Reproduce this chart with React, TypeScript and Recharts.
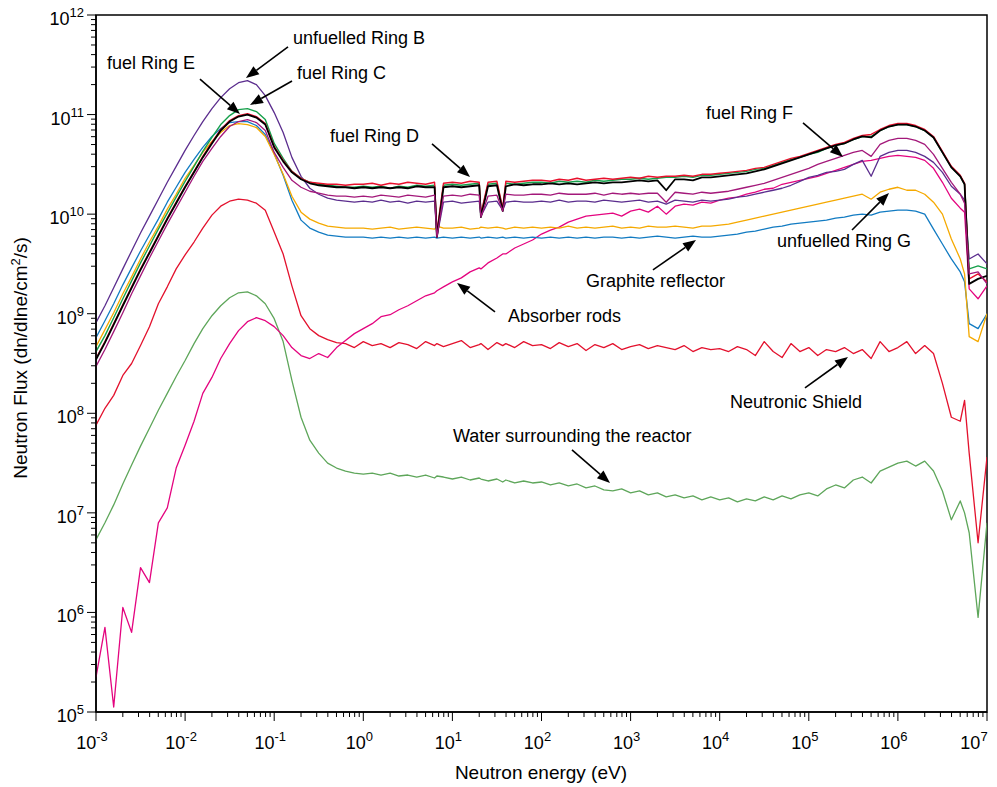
import React from "react";
import {
  LineChart,
  Line,
  XAxis,
  YAxis,
  ReferenceLine,
  ReferenceDot,
  ReferenceArea,
} from "recharts";

const FONT = "'Liberation Sans', Arial, Helvetica, sans-serif";

// neutron energy grid (eV)
const energy = [
  0.001, 0.00126, 0.00158, 0.002, 0.00251, 0.00316, 0.00398, 0.00501, 0.00631, 0.00794,
  0.01, 0.0126, 0.0158, 0.02, 0.0251, 0.0316, 0.0398, 0.0501, 0.0631, 0.0794,
  0.1, 0.126, 0.158, 0.2, 0.251, 0.316, 0.398, 0.501, 0.631, 0.794,
  1, 1.26, 1.58, 2, 2.51, 3.16, 3.98, 5.01, 6.31, 6.7, 7.94,
  10, 12.6, 15.8, 20, 20.9, 25.1, 31.6, 36.7, 39.8, 50.1, 63.1, 79.4,
  100, 126, 158, 200, 251, 316, 398, 501, 631, 794,
  1e3, 1.26e3, 1.58e3, 2e3, 2.51e3, 3.16e3, 3.98e3, 5.01e3, 6.31e3, 7.94e3,
  1e4, 1.26e4, 1.58e4, 2e4, 2.51e4, 3.16e4, 3.98e4, 5.01e4, 6.31e4, 7.94e4,
  1e5, 1.26e5, 1.58e5, 2e5, 2.51e5, 3.16e5, 3.98e5, 5.01e5, 6.31e5, 7.94e5,
  1e6, 1.26e6, 1.58e6, 2e6, 2.51e6, 3.16e6, 3.98e6, 5.01e6, 5.6e6, 6.31e6, 7.94e6,
  1e7,
];

// log10 of the flux, one value per energy point
const ringB = [
  8.91, 9.08, 9.26, 9.45, 9.63, 9.81, 9.98, 10.15, 10.32, 10.48,
  10.64, 10.79, 10.93, 11.06, 11.17, 11.26, 11.32, 11.34, 11.3, 11.19,
  11.02, 10.82, 10.57, 10.38, 10.26, 10.2, 10.16, 10.14, 10.13, 10.12,
  10.13, 10.12, 10.14, 10.12, 10.13, 10.11, 10.13, 10.12, 10.13, 9.77, 10.12,
  10.13, 10.11, 10.12, 10.13, 9.98, 10.12, 10.13, 10.04, 10.12, 10.13, 10.12, 10.12,
  10.13, 10.12, 10.14, 10.12, 10.13, 10.13, 10.12, 10.14, 10.13, 10.12,
  10.13, 10.14, 10.12, 10.13, 10.1, 10.14, 10.13, 10.12, 10.14, 10.13,
  10.14, 10.15, 10.17, 10.18, 10.2, 10.22, 10.24, 10.26, 10.29, 10.33,
  10.37, 10.39, 10.42, 10.43, 10.45, 10.5, 10.54, 10.38, 10.58, 10.62,
  10.64, 10.64, 10.62, 10.58, 10.52, 10.42, 10.28, 10.2, 10.14, 9.55, 9.6,
  9.5,
];

const ringC = [
  8.62, 8.78, 8.96, 9.15, 9.33, 9.51, 9.68, 9.85, 10.01, 10.17,
  10.33, 10.48, 10.63, 10.77, 10.9, 10.99, 11.05, 11.06, 11.03, 10.95,
  10.71, 10.56, 10.43, 10.36, 10.32, 10.3, 10.29, 10.28, 10.27, 10.27,
  10.28, 10.27, 10.28, 10.26, 10.28, 10.27, 10.29, 10.28, 10.29, 9.8, 10.29,
  10.3, 10.29, 10.3, 10.31, 9.99, 10.3, 10.31, 10.05, 10.31, 10.3, 10.31, 10.32,
  10.32, 10.31, 10.33, 10.32, 10.33, 10.32, 10.34, 10.33, 10.34, 10.35,
  10.35, 10.36, 10.35, 10.36, 10.37, 10.37, 10.38, 10.37, 10.39, 10.39,
  10.4, 10.41, 10.42, 10.43, 10.45, 10.46, 10.49, 10.52, 10.55, 10.57,
  10.6, 10.62, 10.66, 10.69, 10.71, 10.75, 10.78, 10.78, 10.84, 10.88,
  10.9, 10.9, 10.88, 10.84, 10.77, 10.62, 10.47, 10.38, 10.3, 9.45, 9.48,
  9.45,
];

const ringD = [
  8.55, 8.72, 8.9, 9.09, 9.27, 9.45, 9.62, 9.79, 9.96, 10.12,
  10.28, 10.43, 10.58, 10.72, 10.85, 10.94, 10.99, 11.01, 10.98, 10.91,
  10.68, 10.54, 10.43, 10.36, 10.32, 10.31, 10.3, 10.3, 10.29, 10.3,
  10.3, 10.31, 10.29, 10.31, 10.3, 10.32, 10.31, 10.3, 10.32, 9.82, 10.31,
  10.32, 10.31, 10.33, 10.32, 10.0, 10.32, 10.33, 10.06, 10.33, 10.32, 10.33, 10.34,
  10.34, 10.33, 10.35, 10.34, 10.36, 10.34, 10.35, 10.36, 10.35, 10.36,
  10.37, 10.36, 10.38, 10.37, 10.38, 10.38, 10.39, 10.38, 10.4, 10.4,
  10.41, 10.42, 10.43, 10.44, 10.46, 10.47, 10.5, 10.53, 10.56, 10.58,
  10.61, 10.64, 10.67, 10.7, 10.72, 10.76, 10.79, 10.8, 10.85, 10.89,
  10.91, 10.91, 10.89, 10.85, 10.78, 10.63, 10.48, 10.39, 10.31, 9.35, 9.4,
  9.32,
];

const ringE = [
  8.54, 8.71, 8.89, 9.08, 9.26, 9.44, 9.61, 9.78, 9.95, 10.11,
  10.27, 10.42, 10.57, 10.71, 10.84, 10.93, 10.98, 11.0, 10.97, 10.9,
  10.67, 10.53, 10.42, 10.35, 10.31, 10.29, 10.28, 10.27, 10.27, 10.26,
  10.27, 10.26, 10.27, 10.26, 10.27, 10.26, 10.28, 10.27, 10.27, 9.77, 10.27,
  10.28, 10.27, 10.28, 10.29, 9.97, 10.28, 10.29, 10.03, 10.28, 10.3, 10.29, 10.3,
  10.3, 10.31, 10.3, 10.31, 10.3, 10.31, 10.32, 10.31, 10.32, 10.32,
  10.33, 10.34, 10.33, 10.34, 10.24, 10.35, 10.35, 10.34, 10.37, 10.37,
  10.38, 10.39, 10.4, 10.41, 10.43, 10.45, 10.48, 10.51, 10.54, 10.57,
  10.6, 10.63, 10.66, 10.69, 10.71, 10.75, 10.78, 10.77, 10.84, 10.88,
  10.9, 10.9, 10.88, 10.84, 10.77, 10.62, 10.47, 10.38, 10.3, 9.3, 9.35,
  9.38,
];

const ringF = [
  8.47, 8.64, 8.82, 9.01, 9.2, 9.38, 9.56, 9.73, 9.9, 10.06,
  10.22, 10.38, 10.53, 10.66, 10.78, 10.88, 10.93, 10.95, 10.92, 10.84,
  10.62, 10.47, 10.34, 10.27, 10.23, 10.21, 10.19, 10.18, 10.18, 10.17,
  10.18, 10.17, 10.19, 10.18, 10.17, 10.19, 10.18, 10.17, 10.19, 9.77, 10.18,
  10.19, 10.18, 10.2, 10.19, 9.97, 10.18, 10.19, 10.03, 10.2, 10.19, 10.19, 10.2,
  10.2, 10.19, 10.21, 10.2, 10.2, 10.2, 10.21, 10.19, 10.21, 10.2,
  10.21, 10.2, 10.21, 10.21, 10.12, 10.22, 10.21, 10.2, 10.22, 10.21,
  10.22, 10.23, 10.25, 10.27, 10.29, 10.31, 10.34, 10.37, 10.4, 10.43,
  10.46, 10.5, 10.53, 10.56, 10.59, 10.62, 10.64, 10.58, 10.7, 10.74,
  10.76, 10.76, 10.74, 10.7, 10.6, 10.46, 10.32, 10.2, 10.11, 9.4, 9.42,
  9.3,
];

const ringG = [
  8.67, 8.84, 9.01, 9.2, 9.37, 9.55, 9.72, 9.88, 10.05, 10.2,
  10.36, 10.49, 10.62, 10.73, 10.82, 10.89, 10.91, 10.9, 10.87, 10.78,
  10.6, 10.4, 10.18, 10.02, 9.95, 9.91, 9.88, 9.87, 9.86, 9.86,
  9.86, 9.85, 9.86, 9.87, 9.85, 9.86, 9.87, 9.86, 9.85, 9.88, 9.86,
  9.86, 9.87, 9.85, 9.86, 9.87, 9.86, 9.87, 9.86, 9.85, 9.87, 9.86, 9.87,
  9.86, 9.87, 9.86, 9.88, 9.86, 9.87, 9.86, 9.87, 9.88, 9.86,
  9.87, 9.86, 9.88, 9.87, 9.87, 9.88, 9.87, 9.86, 9.88, 9.88,
  9.89, 9.9, 9.92, 9.94, 9.96, 9.98, 10.0, 10.02, 10.04, 10.06,
  10.08, 10.1, 10.12, 10.14, 10.16, 10.18, 10.2, 10.15, 10.22, 10.25,
  10.27, 10.24, 10.24, 10.2, 10.12, 10.0, 9.75, 9.55, 9.4, 8.77, 8.72,
  9.0,
];

const graphite = [
  8.76, 8.93, 9.1, 9.29, 9.46, 9.63, 9.79, 9.95, 10.12, 10.27,
  10.42, 10.55, 10.67, 10.78, 10.86, 10.92, 10.93, 10.93, 10.89, 10.8,
  10.61, 10.39, 10.14, 9.94, 9.86, 9.82, 9.79, 9.78, 9.77, 9.77,
  9.77, 9.76, 9.77, 9.76, 9.77, 9.76, 9.77, 9.76, 9.77, 9.76, 9.77,
  9.76, 9.77, 9.76, 9.77, 9.76, 9.77, 9.76, 9.77, 9.76, 9.77, 9.76, 9.77,
  9.76, 9.77, 9.76, 9.77, 9.76, 9.77, 9.76, 9.77, 9.77, 9.76,
  9.77, 9.76, 9.77, 9.78, 9.77, 9.76, 9.77, 9.78, 9.77, 9.77,
  9.78, 9.79, 9.8, 9.82, 9.83, 9.85, 9.87, 9.88, 9.9, 9.91,
  9.92, 9.93, 9.94, 9.96, 9.97, 9.99, 10.0, 9.99, 10.02, 10.03,
  10.04, 10.04, 10.03, 10.0, 9.85, 9.7, 9.55, 9.42, 9.32, 8.9, 8.85,
  9.0,
];

const absorber = [
  5.35, 5.85, 5.05, 6.05, 5.8, 6.45, 6.3, 6.9, 7.05, 7.45,
  7.68, 7.92, 8.2, 8.36, 8.55, 8.7, 8.83, 8.92, 8.96, 8.93,
  8.87, 8.78, 8.66, 8.58, 8.55, 8.6, 8.56, 8.66, 8.73, 8.8,
  8.85, 8.9, 8.97, 8.99, 9.04, 9.08, 9.13, 9.18, 9.21, 9.23, 9.27,
  9.32, 9.36, 9.42, 9.46, 9.45, 9.51, 9.56, 9.6, 9.6, 9.66, 9.7, 9.74,
  9.8, 9.84, 9.87, 9.92, 9.95, 9.98, 9.99, 10.0, 10.01, 9.98,
  10.03, 10.05, 10.02, 10.08, 10.0, 10.08, 10.1, 10.09, 10.12, 10.11,
  10.14, 10.16, 10.17, 10.2, 10.22, 10.25, 10.26, 10.3, 10.32, 10.34,
  10.36, 10.38, 10.41, 10.44, 10.47, 10.5, 10.53, 10.54, 10.56, 10.58,
  10.59, 10.58, 10.57, 10.54, 10.46, 10.32, 10.16, 10.06, 10.02, 9.25, 9.15,
  9.28,
];

const shield = [
  7.88, 8.05, 8.18, 8.38, 8.5, 8.68, 8.87, 9.1, 9.27, 9.45,
  9.59, 9.72, 9.86, 9.99, 10.08, 10.13, 10.15, 10.14, 10.11, 10.04,
  9.82, 9.6, 9.28, 8.98, 8.85, 8.78, 8.74, 8.71, 8.7, 8.66,
  8.72, 8.68, 8.7, 8.66, 8.71, 8.69, 8.65, 8.72, 8.68, 8.7, 8.67,
  8.7, 8.73, 8.66, 8.69, 8.7, 8.64, 8.71, 8.68, 8.7, 8.66, 8.72, 8.68,
  8.69, 8.65, 8.71, 8.67, 8.7, 8.63, 8.69, 8.66, 8.7, 8.64,
  8.67, 8.69, 8.65, 8.68, 8.66, 8.64, 8.68, 8.62, 8.66, 8.64,
  8.65, 8.62, 8.67, 8.64, 8.58, 8.72, 8.62, 8.56, 8.7, 8.62,
  8.66, 8.58, 8.64, 8.62, 8.66, 8.6, 8.64, 8.55, 8.72, 8.62,
  8.66, 8.72, 8.6, 8.68, 8.6, 8.3, 7.96, 7.92, 8.13, 7.6, 6.7,
  7.56,
];

const water = [
  6.73, 6.9, 7.08, 7.29, 7.48, 7.67, 7.85, 8.03, 8.2, 8.37,
  8.53, 8.7, 8.85, 8.98, 9.08, 9.16, 9.21, 9.22, 9.18, 9.1,
  8.95, 8.72, 8.33, 7.96, 7.73, 7.6, 7.5, 7.45, 7.42, 7.4,
  7.39, 7.4, 7.38, 7.4, 7.37, 7.38, 7.36, 7.38, 7.35, 7.37, 7.36,
  7.34, 7.36, 7.33, 7.35, 7.34, 7.32, 7.34, 7.31, 7.33, 7.3, 7.32, 7.3,
  7.31, 7.28, 7.3, 7.27, 7.29, 7.25, 7.27, 7.23, 7.22, 7.24,
  7.2, 7.22, 7.18, 7.2, 7.16, 7.18, 7.15, 7.17, 7.13, 7.16,
  7.13, 7.15, 7.11, 7.14, 7.12, 7.16, 7.13, 7.17, 7.14, 7.18,
  7.2, 7.17, 7.24, 7.28, 7.25, 7.33, 7.36, 7.3, 7.42, 7.46,
  7.5, 7.52, 7.47, 7.52, 7.42, 7.22, 6.93, 7.12, 7.0, 6.8, 5.95,
  6.9,
];

const series = [
  { key: "water", color: "#5ea65a", width: 1.3, values: water },
  { key: "shield", color: "#e3112d", width: 1.3, values: shield },
  { key: "absorber", color: "#e4047f", width: 1.3, values: absorber },
  { key: "graphite", color: "#127bc2", width: 1.3, values: graphite },
  { key: "ringG", color: "#f5a900", width: 1.3, values: ringG },
  { key: "ringB", color: "#5b2d8e", width: 1.3, values: ringB },
  { key: "ringC", color: "#16a04b", width: 1.4, values: ringC },
  { key: "ringD", color: "#e8102c", width: 1.4, values: ringD },
  { key: "ringE", color: "#000000", width: 1.8, values: ringE },
  { key: "ringF", color: "#a3187a", width: 1.3, values: ringF },
];

const data = energy.map((e, i) => {
  const row: Record<string, number> = { e };
  series.forEach((s) => {
    row[s.key] = Math.pow(10, s.values[i]);
  });
  return row;
});

// decade exponents for the axes
const xDecades = [-3, -2, -1, 0, 1, 2, 3, 4, 5, 6, 7];
const yDecades = [5, 6, 7, 8, 9, 10, 11, 12];

function logTicks(decades: number[]) {
  const out: number[] = [];
  decades.forEach((d, i) => {
    out.push(Math.pow(10, d));
    if (i < decades.length - 1) {
      for (let m = 2; m <= 9; m++) out.push(m * Math.pow(10, d));
    }
  });
  return out;
}
const xTicks = logTicks(xDecades);
const yTicks = logTicks(yDecades);

// annotations, positions as log10(energy), log10(flux)
const notes = [
  { text: "unfuelled Ring B", at: [-0.789, 11.709], from: [-0.845, 11.679], to: [-1.317, 11.367] },
  { text: "fuel Ring E", at: [-2.877, 11.458], from: [-1.833, 11.357], to: [-1.384, 11.006] },
  { text: "fuel Ring C", at: [-0.744, 11.357], from: [-0.8, 11.337], to: [-1.272, 11.096] },
  { text: "fuel Ring D", at: [-0.374, 10.725], from: [0.771, 10.705], to: [1.198, 10.373] },
  { text: "fuel Ring F", at: [3.846, 10.956], from: [4.935, 10.916], to: [5.384, 10.574] },
  { text: "unfuelled Ring G", at: [4.643, 9.671], from: [5.485, 9.841], to: [5.9, 10.213] },
  { text: "Graphite reflector", at: [2.499, 9.269], from: [3.251, 9.44], to: [3.734, 9.741] },
  { text: "Absorber rods", at: [1.624, 8.918], from: [1.478, 9.018], to: [1.052, 9.309] },
  { text: "Neutronic Shield", at: [4.116, 8.054], from: [4.957, 8.255], to: [5.44, 8.566] },
  { text: "Water surrounding the reactor", at: [1.007, 7.713], from: [2.342, 7.633], to: [2.769, 7.301] },
];

const isMajor = (v: number) => {
  const lg = Math.log10(v);
  return Math.abs(lg - Math.round(lg)) < 1e-6;
};

function XTick(props: any) {
  const { x, y, payload } = props;
  const major = isMajor(payload.value);
  const exp = Math.round(Math.log10(payload.value));
  // last label is pulled left so it stays inside the picture
  const shift = exp === 7 ? -13 : -4;
  return (
    <g>
      <line x1={x} x2={x} y1={y} y2={y + (major ? 9 : 5)} stroke="#000" strokeWidth={1} />
      {major && (
        <text x={x + shift} y={y + 37} textAnchor="middle" fontSize={18} fontFamily={FONT} fill="#000">
          10
          <tspan dy={-8} fontSize={13}>
            {exp}
          </tspan>
        </text>
      )}
    </g>
  );
}

function YTick(props: any) {
  const { x, y, payload } = props;
  const major = isMajor(payload.value);
  const exp = Math.round(Math.log10(payload.value));
  return (
    <g>
      <line x1={x} x2={x - (major ? 9 : 5)} y1={y} y2={y} stroke="#000" strokeWidth={1} />
      {major && (
        <text x={x - 12} y={y + 10} textAnchor="end" fontSize={18} fontFamily={FONT} fill="#000">
          10
          <tspan dy={-8} fontSize={13}>
            {exp}
          </tspan>
        </text>
      )}
    </g>
  );
}

function arrowShape(p: any) {
  const { x1, y1, x2, y2 } = p;
  const dx = x2 - x1;
  const dy = y2 - y1;
  const len = Math.hypot(dx, dy) || 1;
  const ux = dx / len;
  const uy = dy / len;
  const hl = 13;
  const hw = 5;
  const bx = x2 - ux * hl;
  const by = y2 - uy * hl;
  return (
    <g>
      <line x1={x1} y1={y1} x2={bx} y2={by} stroke="#000" strokeWidth={1.6} />
      <polygon
        points={`${x2},${y2} ${bx - uy * hw},${by + ux * hw} ${bx + uy * hw},${by - ux * hw}`}
        fill="#000"
      />
    </g>
  );
}

export default function App() {
  return (
    <div style={{ position: "absolute", left: 0, top: 0, background: "#fff" }}>
      <LineChart
        width={997}
        height={787}
        data={data}
        margin={{ top: 15, right: 10, bottom: 0, left: 0 }}
      >
        <ReferenceArea
          x1={1e-3}
          x2={1e7}
          y1={1e5}
          y2={1e12}
          fill="none"
          stroke="#000"
          strokeWidth={1.5}
          fillOpacity={0}
        />
        <XAxis
          dataKey="e"
          type="number"
          scale="log"
          domain={[1e-3, 1e7]}
          ticks={xTicks}
          interval={0}
          allowDataOverflow
          tickLine={false}
          tickSize={0}
          tickMargin={0}
          tick={<XTick />}
          axisLine={{ stroke: "#000", strokeWidth: 1.5 }}
          height={75}
        />
        <YAxis
          type="number"
          scale="log"
          domain={[1e5, 1e12]}
          ticks={yTicks}
          interval={0}
          allowDataOverflow
          tickLine={false}
          tickSize={0}
          tickMargin={0}
          tick={<YTick />}
          axisLine={{ stroke: "#000", strokeWidth: 1.5 }}
          width={96}
        />
        {series.map((s) => (
          <Line
            key={s.key}
            dataKey={s.key}
            stroke={s.color}
            strokeWidth={s.width}
            dot={false}
            activeDot={false}
            isAnimationActive={false}
            strokeLinejoin="round"
          />
        ))}
        {notes.map((n) => (
          <ReferenceLine
            key={"a" + n.text}
            segment={[
              { x: Math.pow(10, n.from[0]), y: Math.pow(10, n.from[1]) },
              { x: Math.pow(10, n.to[0]), y: Math.pow(10, n.to[1]) },
            ]}
            shape={arrowShape}
          />
        ))}
        {notes.map((n) => (
          <ReferenceDot
            key={"t" + n.text}
            x={Math.pow(10, n.at[0])}
            y={Math.pow(10, n.at[1])}
            r={0}
            shape={(p: any) => (
              <text x={p.cx} y={p.cy} fontSize={18} fontFamily={FONT} fill="#000">
                {n.text}
              </text>
            )}
          />
        ))}
        <ReferenceDot
          x={98.6}
          y={1e5}
          r={0}
          shape={(p: any) => (
            <text
              x={p.cx}
              y={p.cy + 67}
              textAnchor="middle"
              fontSize={19}
              fontFamily={FONT}
              fill="#000"
            >
              Neutron energy (eV)
            </text>
          )}
        />
        <ReferenceDot
          x={1e-3}
          y={3.6e8}
          r={0}
          shape={(p: any) => (
            <text
              transform={`translate(${p.cx - 69},${p.cy}) rotate(-90)`}
              textAnchor="middle"
              fontSize={19}
              fontFamily={FONT}
              fill="#000"
            >
              Neutron Flux (dn/dlne/cm
              <tspan dy={-7} fontSize={13}>
                2
              </tspan>
              <tspan dy={7}>/s)</tspan>
            </text>
          )}
        />
      </LineChart>
    </div>
  );
}
